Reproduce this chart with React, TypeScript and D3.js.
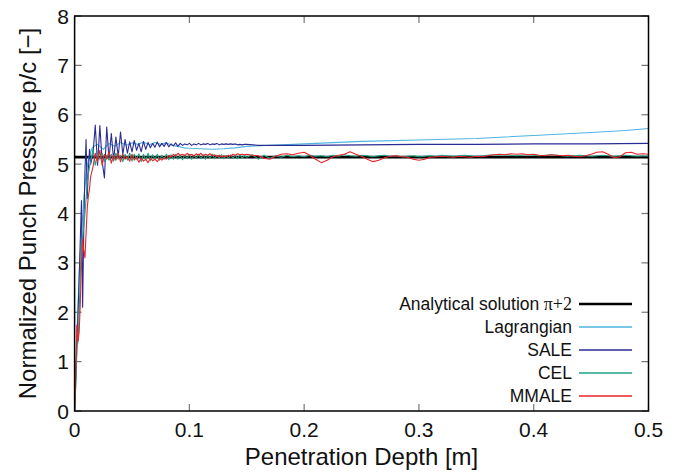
import React from "react";
import * as d3 from "d3";

// depth grids [m]
const depthMid = [...d3.range(0, 0.015, 0.001), ...d3.range(0.016, 0.149, 0.002)];
const depthLate = d3.range(0.15, 0.5001, 0.005);

// analytical solution pi + 2
const analytical = Math.PI + 2;

// Lagrangian (own sampling, smooth after the start)
const lagDepth = [0, 0.002, 0.004, 0.006, 0.008, 0.01, 0.012, 0.014, 0.016, 0.02, 0.025, 0.03, 0.035, 0.04, 0.045, 0.05, 0.055, 0.06, 0.065, 0.07, 0.075, 0.08, 0.085, 0.09, 0.095, 0.1, 0.11, 0.12, 0.13, 0.14, 0.15, 0.2, 0.25, 0.3, 0.35, 0.4, 0.45, 0.48, 0.5];
const lagValues = [0, 1.5, 2.8, 3.6, 4.3, 4.8, 5.1, 5.25, 5.35, 5.4, 5.3, 5.42, 5.36, 5.44, 5.38, 5.43, 5.4, 5.45, 5.39, 5.44, 5.4, 5.43, 5.38, 5.36, 5.33, 5.32, 5.31, 5.3, 5.31, 5.33, 5.36, 5.41, 5.46, 5.49, 5.52, 5.58, 5.64, 5.68, 5.72];

// SALE
const saleMid = [
  0, 0.6, 1.3, 2.0, 2.7, 3.5, 4.26, 2.1, 3.7, 4.84, 5.5, 4.3, 4.9, 5.3, 5.0,
  5.2, 5.79, 4.98, 5.78, 5.05, 4.72, 5.75, 5.1, 5.62, 5.08,
  5.55, 5.15, 5.65, 5.2, 5.5, 5.22, 5.45, 5.25, 5.48, 5.28,
  5.42, 5.25, 5.46, 5.3, 5.44, 5.33, 5.42, 5.34, 5.45, 5.35,
  5.42, 5.36, 5.44, 5.35, 5.41, 5.37, 5.43, 5.36, 5.42, 5.38,
  5.41, 5.39, 5.42, 5.38, 5.41, 5.39, 5.42, 5.39, 5.41, 5.4,
  5.42, 5.39, 5.41, 5.4, 5.42, 5.39, 5.41, 5.4, 5.41, 5.4,
  5.41, 5.4, 5.41, 5.39, 5.4, 5.39, 5.4,
];
const saleLateDepth = [0.15, 0.16, 0.17, 0.2, 0.25, 0.3, 0.35, 0.4, 0.45, 0.5];
const saleLate = [5.4, 5.38, 5.38, 5.38, 5.39, 5.4, 5.4, 5.41, 5.41, 5.42];

// CEL
const celMid = [
  0, 0.5, 1.3, 1.4, 2.0, 2.8, 3.4, 3.55, 3.75, 4.0, 4.3, 4.6, 4.8, 4.95, 5.05,
  5.3, 4.98, 5.2, 5.1, 5.22, 5.05, 5.18, 5.08, 5.2, 5.06,
  5.22, 5.1, 5.18, 5.05, 5.2, 5.08, 5.22, 5.06, 5.2, 5.1,
  5.21, 5.05, 5.2, 5.08, 5.22, 5.07, 5.19, 5.1, 5.2, 5.08,
  5.18, 5.1, 5.2, 5.09, 5.19, 5.1, 5.2, 5.1, 5.18, 5.09,
  5.19, 5.11, 5.2, 5.1, 5.18, 5.12, 5.2, 5.11, 5.19, 5.1,
  5.18, 5.12, 5.2, 5.11, 5.18, 5.12, 5.19, 5.11, 5.18, 5.12,
  5.19, 5.12, 5.18, 5.11, 5.19, 5.12, 5.17,
];
const celLate = [
  5.14, 5.19, 5.1, 5.18, 5.12, 5.17, 5.14, 5.18, 5.15, 5.17,
  5.15, 5.18, 5.16, 5.17, 5.15, 5.18, 5.16, 5.19, 5.17, 5.16,
  5.18, 5.17, 5.15, 5.17, 5.18, 5.16, 5.17, 5.15, 5.16, 5.17,
  5.15, 5.16, 5.17, 5.16, 5.18, 5.17, 5.16, 5.17, 5.18, 5.17,
  5.16, 5.17, 5.18, 5.19, 5.18, 5.19, 5.18, 5.17, 5.18, 5.19,
  5.18, 5.17, 5.18, 5.19, 5.18, 5.17, 5.16, 5.17, 5.18, 5.17,
  5.16, 5.17, 5.18, 5.17, 5.16, 5.17, 5.18, 5.17, 5.16, 5.17, 5.16,
];

// MMALE
const mmaleMid = [
  0, 0.8, 1.74, 1.42, 1.6, 2.2, 3.0, 3.48, 3.25, 3.1, 3.6, 4.1, 4.35, 4.5, 4.75,
  4.94, 5.22, 5.05, 5.28, 4.98, 5.2, 5.1, 5.25, 5.02, 5.18,
  5.08, 5.22, 5.05, 5.2, 5.1, 5.15, 5.06, 5.2, 5.08, 5.14,
  5.04, 5.12, 5.06, 5.1, 5.03, 5.12, 5.07, 5.1, 5.05, 5.12,
  5.08, 5.13, 5.1, 5.18, 5.14, 5.2, 5.16, 5.22, 5.18, 5.2,
  5.17, 5.22, 5.18, 5.2, 5.16, 5.21, 5.18, 5.22, 5.17, 5.2,
  5.18, 5.21, 5.17, 5.19, 5.15, 5.18, 5.14, 5.17, 5.15, 5.18,
  5.16, 5.2, 5.18, 5.21, 5.19, 5.2, 5.19,
];
const mmaleLate = [
  5.2, 5.18, 5.17, 5.12, 5.1, 5.16, 5.2, 5.21, 5.19, 5.22,
  5.24, 5.18, 5.1, 5.03, 5.08, 5.15, 5.18, 5.2, 5.25, 5.2,
  5.16, 5.1, 5.05, 5.08, 5.13, 5.16, 5.17, 5.15, 5.14, 5.1,
  5.08, 5.1, 5.14, 5.15, 5.16, 5.15, 5.14, 5.16, 5.15, 5.14,
  5.16, 5.15, 5.17, 5.19, 5.2, 5.19, 5.21, 5.2, 5.21, 5.19,
  5.2, 5.18, 5.17, 5.19, 5.18, 5.17, 5.18, 5.16, 5.15, 5.17,
  5.2, 5.24, 5.25, 5.2, 5.13, 5.15, 5.23, 5.24, 5.2, 5.21, 5.2,
];

const xTicks = [0, 0.1, 0.2, 0.3, 0.4, 0.5];
const yTicks = [0, 1, 2, 3, 4, 5, 6, 7, 8];

const font = "'Liberation Sans', Arial, Helvetica, sans-serif";

const W = 678;
const H = 474;
const left = 74.6;
const right = 648.5;
const top = 16;
const bottom = 411;

export default function App() {
  const x = d3.scaleLinear().domain([0, 0.5]).range([left, right]);
  const y = d3.scaleLinear().domain([0, 8]).range([bottom, top]);

  const line = d3
    .line<[number, number]>()
    .x((d) => x(d[0]))
    .y((d) => y(d[1]));

  const lag = d3.zip(lagDepth, lagValues) as [number, number][];
  const sale = [
    ...(d3.zip(depthMid, saleMid) as [number, number][]),
    ...(d3.zip(saleLateDepth, saleLate) as [number, number][]),
  ];
  const cel = [
    ...(d3.zip(depthMid, celMid) as [number, number][]),
    ...(d3.zip(depthLate, celLate) as [number, number][]),
  ];
  const mmale = [
    ...(d3.zip(depthMid, mmaleMid) as [number, number][]),
    ...(d3.zip(depthLate, mmaleLate) as [number, number][]),
  ];
  const exact: [number, number][] = [
    [0, analytical],
    [0.5, analytical],
  ];

  const series = [
    { name: "Lagrangian", data: lag, color: "#4fb4e2", width: 1.1 },
    { name: "SALE", data: sale, color: "#2a2c94", width: 1.1 },
    { name: "CEL", data: cel, color: "#1ea384", width: 1.1 },
    { name: "MMALE", data: mmale, color: "#e8232a", width: 1.1 },
  ];

  const legendRows = [
    { label: "Analytical solution", color: "#000", width: 2.6 },
    ...series.map((s) => ({ label: s.name, color: s.color, width: 1.6 })),
  ];

  const tickLen = 7;

  return (
    <svg
      width={W}
      height={H}
      style={{ position: "absolute", left: 0, top: 0, background: "#fff" }}
      fontFamily={font}
    >
      <defs>
        <clipPath id="plot">
          <rect x={left} y={top} width={right - left} height={bottom - top} />
        </clipPath>
      </defs>

      {/* ticks on all four sides, pointing inward */}
      <g stroke="#777" strokeWidth={1.2}>
        {xTicks.map((t) => (
          <g key={"x" + t}>
            <line x1={x(t)} x2={x(t)} y1={bottom} y2={bottom - tickLen} />
            <line x1={x(t)} x2={x(t)} y1={top} y2={top + tickLen} />
          </g>
        ))}
        {yTicks.map((t) => (
          <g key={"y" + t}>
            <line x1={left} x2={left + tickLen} y1={y(t)} y2={y(t)} />
            <line x1={right} x2={right - tickLen} y1={y(t)} y2={y(t)} />
          </g>
        ))}
      </g>

      <g clipPath="url(#plot)" fill="none">
        <path d={line(exact) ?? ""} stroke="#000" strokeWidth={2.6} />
        {series.map((s) => (
          <path
            key={s.name}
            d={line(s.data) ?? ""}
            stroke={s.color}
            strokeWidth={s.width}
            strokeLinejoin="round"
          />
        ))}
      </g>

      <rect
        x={left}
        y={top}
        width={right - left}
        height={bottom - top}
        fill="none"
        stroke="#000"
        strokeWidth={1.5}
      />

      {/* tick labels */}
      <g fontSize={21} fill="#111">
        {xTicks.map((t) => (
          <text key={"xl" + t} x={x(t)} y={437} textAnchor="middle">
            {t === 0 ? "0" : d3.format(".1f")(t)}
          </text>
        ))}
        {yTicks.map((t) => (
          <text key={"yl" + t} x={69} y={y(t) + 7.5} textAnchor="end">
            {t}
          </text>
        ))}
      </g>

      <text x={(left + right) / 2} y={465} textAnchor="middle" fontSize={24} fill="#111">
        Penetration Depth [m]
      </text>
      <text
        transform={`translate(36,${(top + bottom) / 2}) rotate(-90)`}
        textAnchor="middle"
        fontSize={24}
        fill="#111"
      >
        Normalized Punch Pressure p/c [−]
      </text>

      {/* legend */}
      <g fontSize={17.5} fill="#111">
        {legendRows.map((r, i) => {
          const cy = 304 + i * 23;
          return (
            <g key={r.label}>
              <text x={572} y={cy + 6} textAnchor="end">
                {r.label}
                {i === 0 ? (
                  <tspan fontFamily="'Liberation Serif', 'Times New Roman', serif" fontSize={18}>
                    {" π+2"}
                  </tspan>
                ) : null}
              </text>
              <line x1={579} x2={632} y1={cy} y2={cy} stroke={r.color} strokeWidth={r.width} />
            </g>
          );
        })}
      </g>
    </svg>
  );
}
